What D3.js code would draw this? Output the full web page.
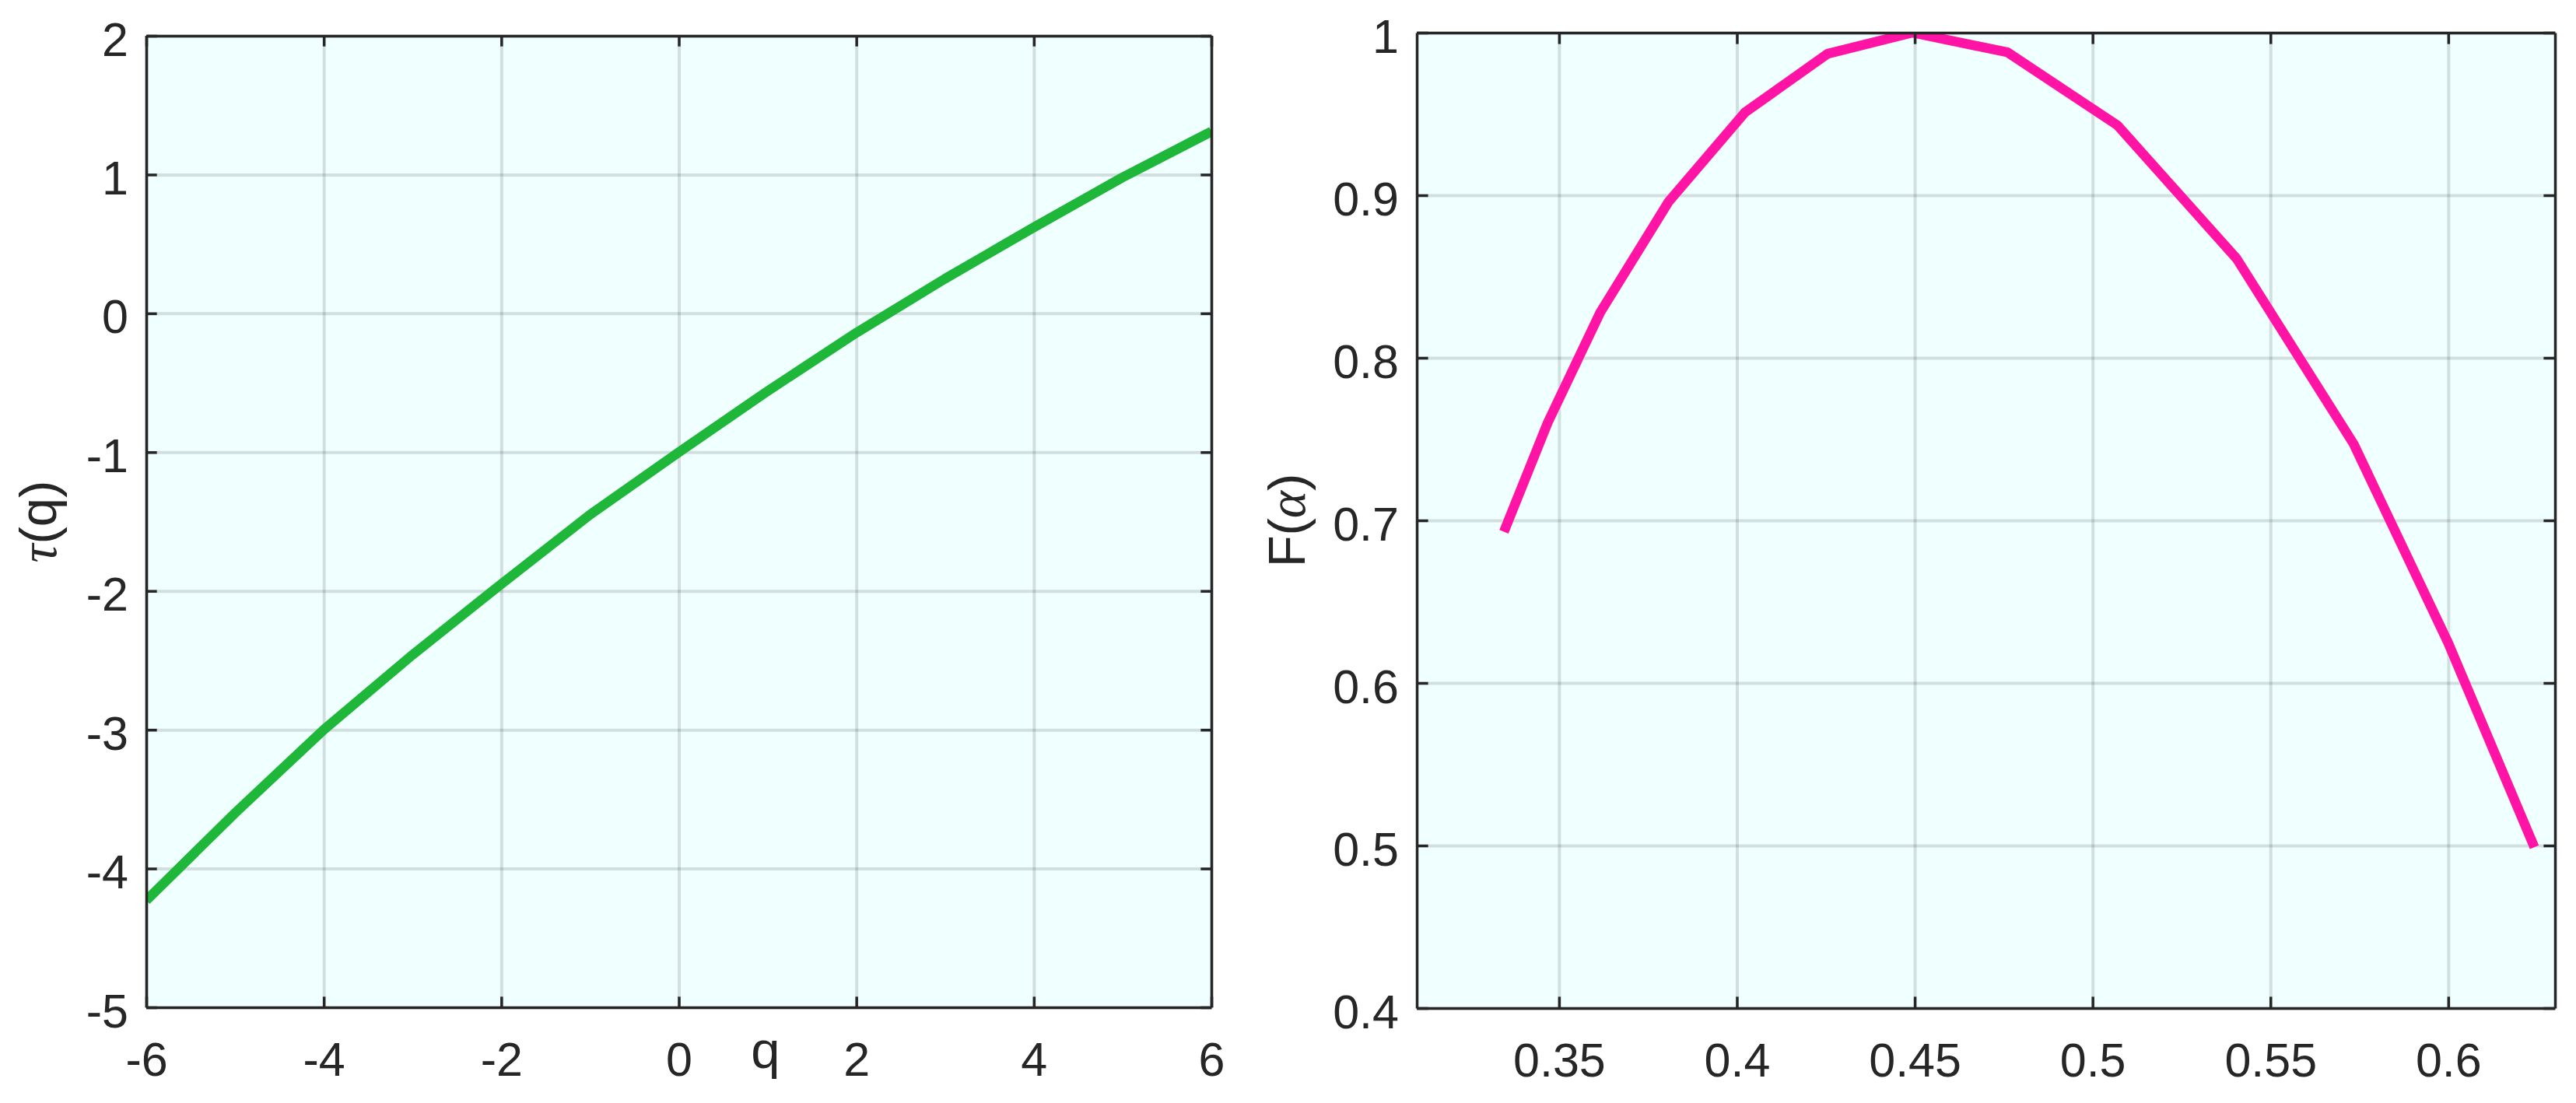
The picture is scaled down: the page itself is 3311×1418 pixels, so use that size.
<!DOCTYPE html>
<html>
<head>
<meta charset="utf-8">
<script src="https://cdn.jsdelivr.net/npm/d3@7"></script>
<style>
  html, body { margin: 0; padding: 0; background: #fff; }
  svg { display: block; }
</style>
</head>
<body>
<div id="chart"></div>
<script>
const w = 3311
const h = 1418

// tau(q) panel
const qValues = [-6, -5, -4, -3, -2, -1, 0, 1, 2, 3, 4, 5, 6]
const tauValues = [-4.23, -3.60, -3.00, -2.46, -1.95, -1.45, -1.00, -0.56, -0.14, 0.25, 0.62, 0.98, 1.31]
const tauXTicks = [-6, -4, -2, 0, 2, 4, 6]
const tauYTicks = [-5, -4, -3, -2, -1, 0, 1, 2]

// F(alpha) panel
const alphaValues = [0.3345, 0.3468, 0.3616, 0.3808, 0.4023, 0.4255, 0.4493, 0.4760, 0.5070, 0.5405, 0.5734, 0.6000, 0.6242]
const fAlphaValues = [0.693, 0.760, 0.828, 0.896, 0.951, 0.987, 1.000, 0.988, 0.943, 0.861, 0.747, 0.6245, 0.499]
const alphaXTicks = [0.35, 0.4, 0.45, 0.5, 0.55, 0.6]
const fYTicks = [0.4, 0.5, 0.6, 0.7, 0.8, 0.9, 1]

const axisColor = "#262626"
const bgColor = "#f0ffff"
const tickFont = 61
const labelFont = 67
const fontFamily = "'Liberation Sans', Arial, Helvetica, sans-serif"

const svg = d3.select('#chart').append('svg')
  .attr('width', w)
  .attr('height', h)
  .attr('viewBox', `0 0 ${w} ${h}`)

svg.append('rect')
  .attr('width', w)
  .attr('height', h)
  .attr('fill', '#fff')

drawPanel = (cfg) => {
  const x = d3.scaleLinear().domain(cfg.xDomain).range([cfg.left, cfg.right])
  const y = d3.scaleLinear().domain(cfg.yDomain).range([cfg.bottom, cfg.top])
  const pw = cfg.right - cfg.left
  const ph = cfg.bottom - cfg.top
  const tickLen = Math.max(pw, ph) * 0.01

  const g = svg.append('g')

  g.append('rect')
    .attr('x', cfg.left)
    .attr('y', cfg.top)
    .attr('width', pw)
    .attr('height', ph)
    .attr('fill', bgColor)

  // grid
  g.append('g')
    .attr('transform', `translate(0,${cfg.bottom})`)
    .call(d3.axisBottom(x).tickValues(cfg.xTicks).tickSize(-ph).tickFormat(''))
    .call(a => a.select('.domain').remove())
    .call(a => a.selectAll('.tick line')
      .attr('stroke', axisColor)
      .attr('stroke-opacity', 0.15)
      .attr('stroke-width', 4))
  g.append('g')
    .attr('transform', `translate(${cfg.left},0)`)
    .call(d3.axisLeft(y).tickValues(cfg.yTicks).tickSize(-pw).tickFormat(''))
    .call(a => a.select('.domain').remove())
    .call(a => a.selectAll('.tick line')
      .attr('stroke', axisColor)
      .attr('stroke-opacity', 0.15)
      .attr('stroke-width', 4))

  const clipId = `clip-${cfg.name}`
  g.append('clipPath')
    .attr('id', clipId)
    .append('rect')
      .attr('x', cfg.left)
      .attr('y', cfg.top)
      .attr('width', pw)
      .attr('height', ph)

  const line = d3.line()
    .x((d, i) => x(cfg.xs[i]))
    .y(d => y(d))

  g.append('path')
    .attr('d', line(cfg.ys))
    .attr('clip-path', `url(#${clipId})`)
    .attr('fill', 'none')
    .attr('stroke', cfg.color)
    .attr('stroke-width', 12.5)
    .attr('stroke-linejoin', 'round')
    .attr('stroke-linecap', 'butt')

  const styleAxis = a => {
    a.select('.domain')
      .attr('stroke', axisColor)
      .attr('stroke-width', 3.5)
    a.selectAll('.tick line')
      .attr('stroke', axisColor)
      .attr('stroke-width', 3.5)
    a.selectAll('.tick text')
      .attr('fill', axisColor)
      .style('font-family', fontFamily)
      .style('font-size', `${tickFont}px`)
  }

  // bottom, with labels
  g.append('g')
    .attr('transform', `translate(0,${cfg.bottom})`)
    .call(d3.axisBottom(x).tickValues(cfg.xTicks).tickSizeInner(-tickLen).tickSizeOuter(0)
      .tickFormat(d => String(d)))
    .call(styleAxis)
    .call(a => a.selectAll('.tick text')
      .attr('y', 88)
      .attr('dy', 0))

  // top, mirrored ticks
  g.append('g')
    .attr('transform', `translate(0,${cfg.top})`)
    .call(d3.axisTop(x).tickValues(cfg.xTicks).tickSizeInner(-tickLen).tickSizeOuter(0).tickFormat(''))
    .call(styleAxis)

  // left, with labels
  g.append('g')
    .attr('transform', `translate(${cfg.left},0)`)
    .call(d3.axisLeft(y).tickValues(cfg.yTicks).tickSizeInner(-tickLen).tickSizeOuter(0)
      .tickFormat(d => String(d)))
    .call(styleAxis)
    .call(a => a.selectAll('.tick text')
      .attr('x', -23)
      .attr('dy', '0.41em'))

  // right, mirrored ticks
  g.append('g')
    .attr('transform', `translate(${cfg.right},0)`)
    .call(d3.axisRight(y).tickValues(cfg.yTicks).tickSizeInner(-tickLen).tickSizeOuter(0).tickFormat(''))
    .call(styleAxis)

  // y label
  const yl = g.append('text')
    .attr('transform', `translate(${cfg.yLabelX},${(cfg.top + cfg.bottom) / 2}) rotate(-90)`)
    .attr('text-anchor', 'middle')
    .attr('fill', axisColor)
    .style('font-family', fontFamily)
    .style('font-size', `${labelFont}px`)
  cfg.yLabel.forEach(part => {
    yl.append('tspan')
      .style('font-family', part.greek ? "'Liberation Serif', 'Times New Roman', serif" : fontFamily)
      .style('font-style', part.greek ? 'italic' : 'normal')
      .text(part.t)
  })

  if (cfg.xLabel) {
    g.append('text')
      .attr('x', cfg.xLabelX)
      .attr('y', cfg.xLabelY)
      .attr('text-anchor', 'middle')
      .attr('fill', axisColor)
      .style('font-family', fontFamily)
      .style('font-size', `${labelFont}px`)
      .text(cfg.xLabel)
  }
}

drawPanel({
  name: 'tau',
  left: 188, right: 1557, top: 46, bottom: 1295,
  xDomain: [-6, 6], yDomain: [-5, 2],
  xTicks: tauXTicks, yTicks: tauYTicks,
  xs: qValues, ys: tauValues,
  color: '#1fb73a',
  yLabel: [{ t: 'τ', greek: true }, { t: '(q)' }],
  yLabelX: 72,
  xLabel: 'q', xLabelX: 984, xLabelY: 1373
})

drawPanel({
  name: 'falpha',
  left: 1821, right: 3284, top: 42, bottom: 1296,
  xDomain: [0.31, 0.63], yDomain: [0.4, 1],
  xTicks: alphaXTicks, yTicks: fYTicks,
  xs: alphaValues, ys: fAlphaValues,
  color: '#ff14a6',
  yLabel: [{ t: 'F(' }, { t: 'α', greek: true }, { t: ')' }],
  yLabelX: 1677
})
</script>
</body>
</html>
